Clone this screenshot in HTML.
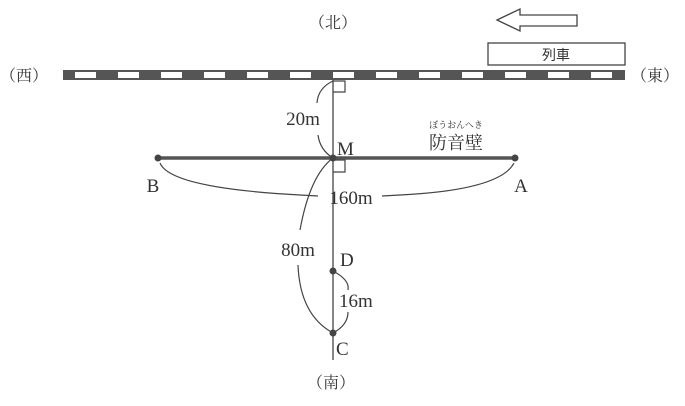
<!DOCTYPE html>
<html><head><meta charset="utf-8"><style>
body{margin:0;background:#fff;}
svg{display:block}
text{font-family:"Liberation Serif","Noto Serif CJK SC",serif;fill:#333;}
</style></head><body>
<svg width="685" height="406" viewBox="0 0 685 406">
<defs>
<pattern id="tr" x="63" y="0" width="43" height="10" patternUnits="userSpaceOnUse">
<rect x="0" y="0" width="43" height="10" fill="#555"/>
<rect x="12" y="2" width="21" height="6" fill="#fff"/>
</pattern>
</defs>
<text x="333" y="28" font-size="16" text-anchor="middle">（北）</text>
<text x="24" y="81" font-size="16" text-anchor="middle">（西）</text>
<text x="655" y="81" font-size="16" text-anchor="middle">（東）</text>
<text x="331" y="388" font-size="16" text-anchor="middle">（南）</text>
<!-- arrow -->
<path d="M497 20 L520 9 L520 15 L577 15 L577 26 L520 26 L520 31 Z" fill="#fff" stroke="#444" stroke-width="1.3"/>
<rect x="488" y="43" width="137" height="22" fill="#fff" stroke="#444" stroke-width="1.3"/>
<text x="556" y="60" font-size="14" text-anchor="middle" style="font-family:'Liberation Sans','Noto Sans CJK JP',sans-serif">列車</text>
<!-- track -->
<rect x="63" y="70" width="562" height="10" fill="url(#tr)"/>
<line x1="63" y1="70.5" x2="625" y2="70.5" stroke="#555"/>
<line x1="63" y1="79.5" x2="625" y2="79.5" stroke="#555"/>
<!-- vertical -->
<line x1="333" y1="80" x2="333" y2="360" stroke="#444" stroke-width="1.3"/>
<path d="M333 81 H345 V92 H333" fill="none" stroke="#444" stroke-width="1.2"/>
<path d="M333 160 H345 V172 H333" fill="none" stroke="#444" stroke-width="1.2"/>
<!-- wall -->
<line x1="158" y1="158" x2="515" y2="158" stroke="#555" stroke-width="3.5"/>
<circle cx="158" cy="158" r="3.5" fill="#444"/><circle cx="515" cy="158" r="3.5" fill="#444"/><circle cx="333" cy="158" r="3.5" fill="#444"/>
<circle cx="333" cy="271" r="3.5" fill="#444"/><circle cx="333" cy="333" r="3.5" fill="#444"/>
<!-- curves -->
<g fill="none" stroke="#444" stroke-width="1.2">
<path d="M333 81 Q318 88 317 103"/>
<path d="M318 135 Q320 150 333 158"/>
<path d="M160 163 Q170 188 300 195 L318 196"/>
<path d="M382 196 L400 195 Q500 190 514 163"/>
<path d="M333 158 Q310 175 300 230"/>
<path d="M298 265 Q300 315 333 333"/>
<path d="M333 271 Q350 280 348 290"/>
<path d="M348 312 Q348 325 333 333"/>
</g>
<g font-size="19">
<text x="303" y="125" text-anchor="middle">20m</text>
<text x="337" y="155">M</text>
<text x="153" y="192" text-anchor="middle">B</text>
<text x="521" y="192" text-anchor="middle">A</text>
<text x="351" y="204" text-anchor="middle">160m</text>
<text x="298" y="256" text-anchor="middle">80m</text>
<text x="340" y="266">D</text>
<text x="339" y="307">16m</text>
<text x="336" y="355">C</text>
</g>
<text x="456" y="128" font-size="9" text-anchor="middle">ぼうおんへき</text>
<text x="456" y="149" font-size="18" text-anchor="middle">防音壁</text>
</svg>
</body></html>
